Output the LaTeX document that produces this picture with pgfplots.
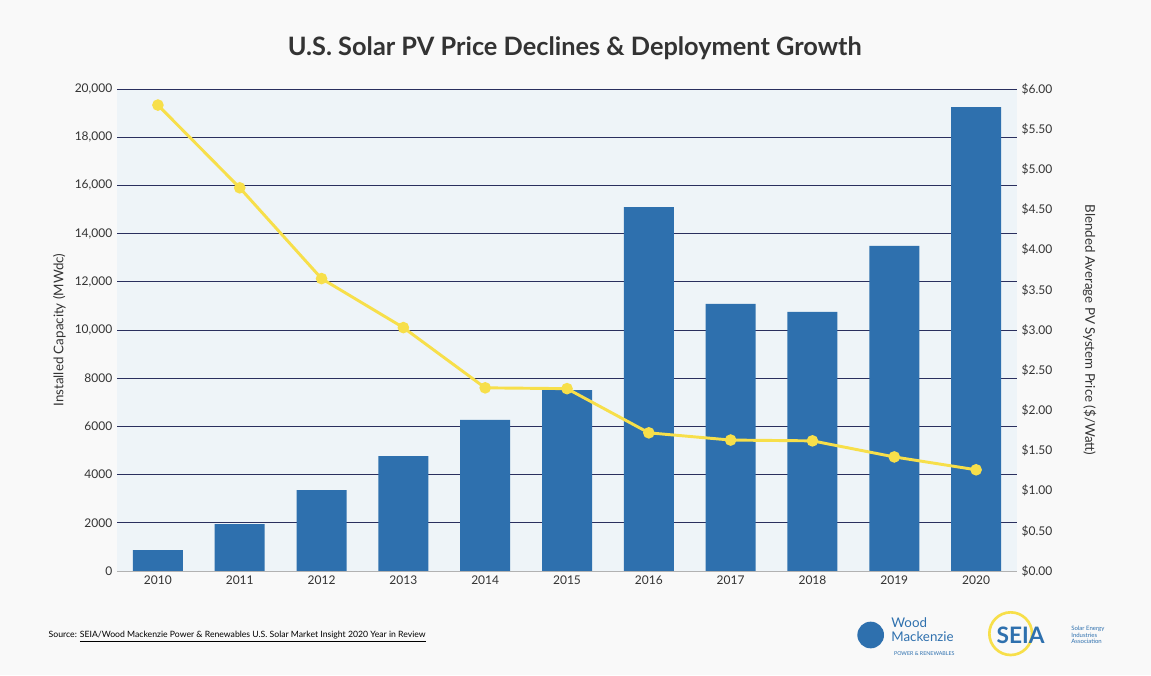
\documentclass[border=0pt]{standalone}
\usepackage{pgfplots}
\pgfplotsset{compat=1.18}
\usepackage{fontspec}
\setmainfont{Lato}
\definecolor{bg}{HTML}{F9F9F9}
\definecolor{plotbg}{HTML}{EEF4F8}
\definecolor{barc}{HTML}{2E70AE}
\definecolor{linec}{HTML}{F7DF4A}
\definecolor{gridc}{HTML}{2A2F5E}
\definecolor{txt}{HTML}{333333}
\begin{document}
\begin{tikzpicture}
\fill[bg] (0,0) rectangle (863.25pt,506.25pt);
\begin{axis}[
  at={(87.75pt,78pt)}, anchor=south west,
  scale only axis, width=675pt, height=361.5pt,
  axis background/.style={fill=plotbg},
  xmin=-0.5, xmax=10.5, ymin=0, ymax=20000,
  xtick={0,...,10},
  xticklabels={2010,2011,2012,2013,2014,2015,2016,2017,2018,2019,2020},
  ytick={0,2000,...,20000},
  yticklabels={0,2000,4000,6000,8000,{10,000},{12,000},{14,000},{16,000},{18,000},{20,000}},
  ymajorgrids, grid style={gridc, line width=0.5pt},
  axis line style={draw=none}, major tick length=0pt,
  tick label style={font=\fontsize{9}{10}\selectfont, text=txt},
  ylabel={Installed Capacity (MWdc)},
  ylabel style={font=\fontsize{10}{12}\selectfont, text=txt},
  scaled y ticks=false,
]
\addplot[ybar, bar width=37.5pt, fill=barc, draw=none] coordinates {
(0,870) (1,1950) (2,3360) (3,4770) (4,6270) (5,7510) (6,15100) (7,11080) (8,10750) (9,13490) (10,19250)};
\draw[gray!60, line width=0.6pt] (axis cs:-0.5,0) -- (axis cs:10.5,0);
\end{axis}
\begin{axis}[
  at={(87.75pt,78pt)}, anchor=south west,
  scale only axis, width=675pt, height=361.5pt,
  xmin=-0.5, xmax=10.5, ymin=0, ymax=6,
  axis y line*=right, axis x line=none,
  axis line style={draw=none}, major tick length=0pt,
  ytick={0,0.5,...,6},
  yticklabels={\$0.00,\$0.50,\$1.00,\$1.50,\$2.00,\$2.50,\$3.00,\$3.50,\$4.00,\$4.50,\$5.00,\$5.50,\$6.00},
  tick label style={font=\fontsize{9}{10}\selectfont, text=txt},
  ylabel={Blended Average PV System Price (\$/Watt)},
  ylabel style={font=\fontsize{10}{12}\selectfont, text=txt, rotate=180, yshift=16pt},
]
\addplot[linec, line width=2.2pt, mark=*, mark size=3.2pt, mark options={fill=linec, draw=linec}] coordinates {
(0,5.80) (1,4.77) (2,3.64) (3,3.03) (4,2.28) (5,2.27) (6,1.72) (7,1.63) (8,1.62) (9,1.42) (10,1.26)};
\end{axis}
\node[font=\fontsize{19}{22}\selectfont\bfseries, text=txt] at (431pt,470pt) {U.S. Solar PV Price Declines \& Deployment Growth};
\node[anchor=west, font=\fontsize{6.5}{8}\selectfont, text=black] at (33pt,29pt) {Source: \underline{SEIA/Wood Mackenzie Power \& Renewables U.S. Solar Market Insight 2020 Year in Review}};
\fill[barc] (653pt,30pt) circle (10pt);
\node[anchor=west, font=\fontsize{10}{11}\selectfont, text=barc, align=left] at (665pt,34pt) {Wood\\Mackenzie};
\node[anchor=west, font=\fontsize{4}{5}\selectfont, text=barc] at (667pt,16pt) {POWER \& RENEWABLES};
\draw[linec, line width=2pt] (758pt,31pt) circle (16pt);
\node[anchor=west, font=\fontsize{17}{18}\selectfont\bfseries, text=barc] at (744pt,30pt) {SEIA};
\node[anchor=west, font=\fontsize{4.5}{5}\selectfont, text=barc, align=left] at (800pt,30pt) {Solar Energy\\Industries\\Association};
\end{tikzpicture}
\end{document}
